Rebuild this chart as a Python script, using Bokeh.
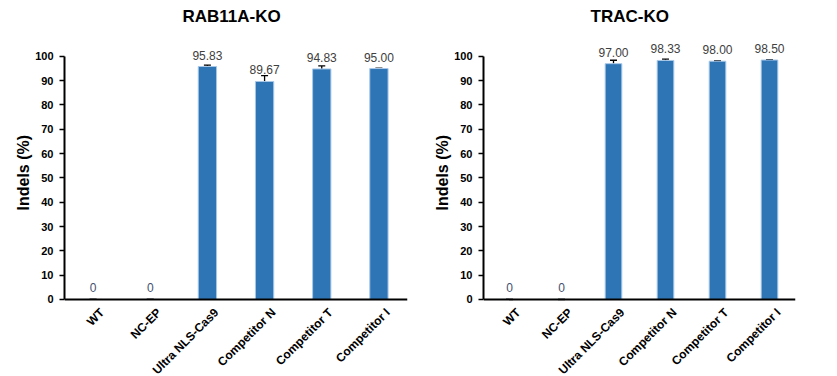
import math
from bokeh.plotting import figure
from bokeh.models import (ColumnDataSource, Range1d, FactorRange, FixedTicker, Whisker,
                          LabelSet, TeeHead, Span, Title)
from bokeh.core.properties import value
from bokeh.layouts import row
from bokeh.embed import file_html
from bokeh.resources import INLINE

categories = ["WT", "NC-EP", "Ultra NLS-Cas9", "Competitor N", "Competitor T", "Competitor I"]
rab11a_values = [0, 0, 95.83, 89.67, 94.83, 95.00]
rab11a_errors = [0, 0, 0.55, 2.4, 1.25, 0.0]
trac_values = [0, 0, 97.00, 98.33, 98.00, 98.50]
trac_errors = [0, 0, 1.4, 0.5, 0.1, 0.1]
y_ticks = [0, 10, 20, 30, 40, 50, 60, 70, 80, 90, 100]
y_title = "Indels (%)"

FONT = "Liberation Sans"
BAR = "#2E75B6"


def make_panel(title, values, errors, width, border_left, border_right, title_offset):
    labels = ["0" if v == 0 else f"{v:.2f}" for v in values]
    colors = ["#44506E" if v == 0 else "#404040" for v in values]
    src = ColumnDataSource(dict(
        cat=categories, val=values,
        lo=[v - e for v, e in zip(values, errors)],
        hi=[v + e for v, e in zip(values, errors)],
        lab=labels, col=colors, base=[0] * len(categories),
    ))
    p = figure(width=width, height=376, x_range=FactorRange(*categories, range_padding=0),
               y_range=Range1d(-31.7, 112.7), output_backend="svg", toolbar_location=None,
               min_border_left=border_left, min_border_right=border_right,
               min_border_top=25, min_border_bottom=0)
    p.title.text = title
    p.title.align = "left"
    p.title.text_font = FONT
    p.title.text_font_size = "17px"
    p.title.text_font_style = "bold"
    p.title.text_color = "black"
    p.title.offset = title_offset
    p.title.standoff = 0
    p.outline_line_color = None
    p.grid.grid_line_color = None
    p.background_fill_color = "white"
    p.border_fill_color = "white"
    p.xaxis.visible = False

    p.vbar(x="cat", top="val", width=0.32, source=src, fill_color=BAR,
           line_color="#A9C8E8", line_width=1)
    p.add_layout(Span(location=0, dimension="width", line_color="black", line_width=2))
    p.add_layout(Whisker(source=src, base="cat", upper="hi", lower="lo",
                         line_color="black", line_width=1.3,
                         upper_head=TeeHead(size=7, line_color="black", line_width=1.3),
                         lower_head=TeeHead(size=7, line_color="black", line_width=1.3)))
    p.add_layout(LabelSet(source=src, x="cat", y="val", text="lab", text_color="col",
                          text_font=value(FONT), text_font_size="12px", text_align="center",
                          text_baseline="bottom", y_offset=7))
    # category labels under the axis, rotated 45 degrees
    p.add_layout(LabelSet(source=src, x="cat", y="base", text="cat", text_color="black",
                          text_font=value(FONT), text_font_size="12px",
                          text_font_style="bold", text_align="right", text_baseline="top",
                          angle=math.pi / 4, x_offset=4, y_offset=-6))

    ya = p.yaxis[0]
    ya.ticker = FixedTicker(ticks=y_ticks)
    ya.bounds = (0, 100)
    ya.major_label_text_font = FONT
    ya.major_label_text_font_size = "11px"
    ya.major_label_text_font_style = "bold"
    ya.major_label_text_color = "black"
    ya.major_label_standoff = 6
    ya.axis_line_width = 2
    ya.axis_line_color = "black"
    ya.major_tick_out = 5
    ya.major_tick_in = 0
    ya.major_tick_line_width = 1.5
    ya.minor_tick_line_color = None

    p.add_layout(Title(text=y_title, align="left", offset=166, standoff=2,
                       text_font=FONT, text_font_size="16px", text_font_style="bold",
                       text_color="black"), "left")
    return p


left = make_panel("RAB11A-KO", rab11a_values, rab11a_errors, 418, 64, 11, 118)
right = make_panel("TRAC-KO", trac_values, trac_errors, 419, 65, 42, 107)
layout = row(left, right)

open("out.html", "w").write(file_html(layout, INLINE))
